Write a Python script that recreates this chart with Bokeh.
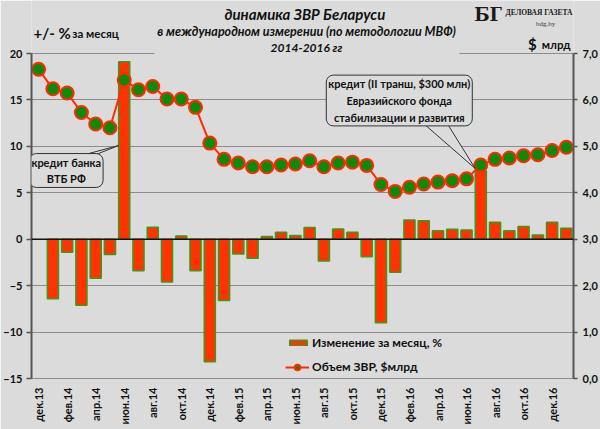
import math
from bokeh.plotting import figure
from bokeh.models import (ColumnDataSource, Range1d, LinearAxis, FixedTicker, Span, Label,
                          BoxAnnotation, Legend, LegendItem)
from bokeh.embed import file_html
from bokeh.resources import INLINE

NAN = float("nan")

# ---------------- data ----------------
months = ["дек.13", "янв.14", "фев.14", "мар.14", "апр.14", "май.14", "июн.14", "июл.14",
          "авг.14", "сен.14", "окт.14", "ноя.14", "дек.14", "янв.15", "фев.15", "мар.15",
          "апр.15", "май.15", "июн.15", "июл.15", "авг.15", "сен.15", "окт.15", "ноя.15",
          "дек.15", "янв.16", "фев.16", "мар.16", "апр.16", "май.16", "июн.16", "июл.16",
          "авг.16", "сен.16", "окт.16", "ноя.16", "дек.16", "янв.17"]
change_pct = [NAN, -6.4, -1.4, -7.1, -4.2, -1.65, 19.1, -3.4, 1.3, -4.6, 0.35, -3.4, -13.2,
              -6.6, -1.6, -2.05, 0.3, 0.75, 0.4, 1.25, -2.35, 1.1, 0.75, -1.9, -9.0, -3.55,
              2.08, 2.0, 0.9, 1.08, 1.0, 7.36, 1.83, 0.9, 1.36, 0.46, 1.83, 1.18]
reserves = [6.66, 6.24, 6.15, 5.73, 5.48, 5.40, 6.43, 6.22, 6.29, 6.02, 6.02, 5.84, 5.07,
            4.72, 4.64, 4.56, 4.56, 4.60, 4.62, 4.69, 4.56, 4.64, 4.66, 4.59, 4.18, 4.03,
            4.12, 4.19, 4.23, 4.26, 4.30, 4.60, 4.72, 4.75, 4.80, 4.82, 4.91, 4.98]
label_every = 2
left_ticks = [-15, -10, -5, 0, 5, 10, 15, 20]
right_ticks = [0, 1, 2, 3, 4, 5, 6, 7]
right_tick_labels = ["0,0", "1,0", "2,0", "3,0", "4,0", "5,0", "6,0", "7,0"]

title_lines = ["динамика  ЗВР Беларуси",
               "в международном измерении (по методологии МВФ)",
               "2014-2016 гг"]
left_unit = ["+/- %", "за месяц"]
right_unit = ["$", "млрд"]
callout_vtb = "кредит банка\nВТБ РФ"
callout_efsd = "кредит (II транш, $300 млн)\nЕвразийского фонда\nстабилизации и развития"
legend_labels = ["Изменение за месяц, %", "Объем ЗВР, $млрд"]
logo = ["БГ", "ДЕЛОВАЯ ГАЗЕТА", "bdg.by"]
vtb_idx = months.index("июн.14")
efsd_idx = months.index("июл.16")

# ---------------- style / layout ----------------
FONT = "Lato"
BG = "#DBDBDB"
GRID = "#8C8C8C"
AXIS = "#555555"
TXT = "#111111"
BAR_FILL = "#FF3300"
BAR_LINE = "#3A9A1E"
RED = "#FF2A00"
GREEN = "#0A8C0A"
W, H = 600, 429
BL, BR, BB = 27, 27, 51          # frame: x 27..573, bottom at 378
PLOT_TOP = 53                    # pixel row of the value 20 / 7,0
n = len(months)
PXC = (W - BL - BR) / n
PXU = (H - BB - PLOT_TOP) / 35.0
Y_TOP = 20 + PLOT_TOP / PXU      # frame reaches the top of the figure (header texts live there)
R_TOP = 7 + (Y_TOP - 20) / 5.0   # keep the right scale aligned with the left one


def dx(px):
    return (px - BL) / PXC - 0.5


def dy(py):
    return 20 - (py - PLOT_TOP) / PXU


p = figure(width=W, height=H, output_backend="svg", toolbar_location=None,
           x_range=Range1d(-0.5, n - 0.5), y_range=Range1d(-15, Y_TOP),
           min_border_left=BL, min_border_right=BR, min_border_top=0, min_border_bottom=BB,
           background_fill_color=BG, border_fill_color=BG, outline_line_color=None)
p.extra_y_ranges = {"right": Range1d(0, R_TOP)}

# grid
p.xgrid.grid_line_color = None
p.ygrid.ticker = FixedTicker(ticks=left_ticks)
p.ygrid.grid_line_color = GRID
p.ygrid.grid_line_width = 1


def style_axis(ax, standoff, tick_out):
    ax.axis_line_color = AXIS
    ax.axis_line_width = 2
    ax.major_tick_line_color = AXIS
    ax.major_tick_line_width = 1.5
    ax.major_tick_out = tick_out
    ax.major_tick_in = 0
    ax.minor_tick_line_color = None
    ax.major_label_standoff = standoff
    ax.major_label_text_font = FONT
    ax.major_label_text_font_style = "bold"
    ax.major_label_text_font_size = "11px"
    ax.major_label_text_color = TXT


# left axis
ya = p.yaxis[0]
ya.ticker = FixedTicker(ticks=left_ticks)
ya.bounds = (left_ticks[0], left_ticks[-1])
style_axis(ya, 4, 5)

# right axis
ra = LinearAxis(y_range_name="right", ticker=FixedTicker(ticks=right_ticks),
                major_label_overrides={t: l for t, l in zip(right_ticks, right_tick_labels)},
                bounds=(right_ticks[0], right_ticks[-1]))
style_axis(ra, 5, 4)
p.add_layout(ra, "right")

# x axis
xa = p.xaxis[0]
xticks = list(range(0, n, label_every))
xa.ticker = FixedTicker(ticks=xticks)
xa.major_label_overrides = {i: months[i] for i in xticks}
xa.major_label_orientation = math.pi / 2
style_axis(xa, 9, 0)
xa.axis_line_color = GRID
xa.axis_line_width = 1
xa.major_tick_line_color = None

# data
src = ColumnDataSource(dict(x=list(range(n)), chg=change_pct, res=reserves))
BAR_W = 0.78
bars = p.vbar(x="x", top="chg", bottom=0, width=BAR_W, source=src,
              fill_color=BAR_FILL, line_color=BAR_LINE, line_width=1.5)
p.add_layout(Span(location=0, dimension="width", line_color=TXT, line_width=1.5))
ln = p.line("x", "res", source=src, y_range_name="right", line_color=RED, line_width=2)
mk = p.scatter("x", "res", source=src, y_range_name="right", size=13,
               fill_color=GREEN, line_color=RED, line_width=2)

# gap in the top gridline behind the title
p.add_layout(BoxAnnotation(left=dx(151), right=dx(458), bottom=19.7, top=20.4,
                           fill_color=BG, fill_alpha=1, line_color=None))

# callout wedges
p.patch(x=[dx(66), vtb_idx - BAR_W / 2, dx(82)], y=[dy(158), dy(145), dy(158)],
        fill_color=BG, line_color="#333333", line_width=1)
p.patch(x=[dx(415), efsd_idx - BAR_W / 2, dx(442)],
        y=[dy(117), change_pct[efsd_idx] + 0.25, dy(117)],
        fill_color=BG, line_color="#333333", line_width=1)

for txt, cx, cy in [(callout_vtb, 62, 170), (callout_efsd, 397.5, 100)]:
    p.add_layout(Label(x=dx(cx), y=dy(cy), text=txt, text_align="center",
                       text_baseline="middle", text_font=FONT, text_font_style="bold",
                       text_font_size="11px", text_color=TXT, text_line_height=1.3,
                       background_fill_color=BG, border_line_color="#333333",
                       border_line_width=1, border_radius=7, padding=2))

# titles
for txt, py, fs in zip(title_lines, [13, 31, 47], ["15px", "12.5px", "12px"]):
    p.add_layout(Label(x=dx(304), y=dy(py), text=txt, text_align="center",
                       text_baseline="middle", text_font=FONT,
                       text_font_style="bold italic", text_font_size=fs, text_color=TXT))

p.add_layout(Label(x=dx(29), y=dy(32), text=left_unit[0], text_align="left",
                   text_baseline="middle", text_font=FONT, text_font_style="bold",
                   text_font_size="15px", text_color=TXT))
p.add_layout(Label(x=dx(68), y=dy(33), text=left_unit[1], text_align="left",
                   text_baseline="middle", text_font=FONT, text_font_style="bold",
                   text_font_size="11.5px", text_color=TXT))
p.add_layout(Label(x=dx(536), y=dy(43), text=right_unit[0], text_align="right",
                   text_baseline="middle", text_font=FONT, text_font_style="bold",
                   text_font_size="15px", text_color=TXT))
p.add_layout(Label(x=dx(570), y=dy(44), text=right_unit[1], text_align="right",
                   text_baseline="middle", text_font=FONT, text_font_style="bold",
                   text_font_size="11.5px", text_color=TXT))

# logo
p.add_layout(Label(x=dx(487), y=dy(14), text=logo[0], text_align="center",
                   text_baseline="middle", text_font="DejaVu Serif", text_font_style="bold",
                   text_font_size="18px", text_color="#1A1A1A"))
p.add_layout(Label(x=dx(572), y=dy(12), text=logo[1], text_align="right",
                   text_baseline="middle", text_font="Liberation Serif", text_font_style="bold",
                   text_font_size="7.5px", text_color="#1A1A1A"))
p.add_layout(Label(x=dx(545), y=dy(23), text=logo[2], text_align="center",
                   text_baseline="middle", text_font="Liberation Serif",
                   text_font_size="7px", text_color="#333333"))

# legends
common = dict(background_fill_alpha=0, border_line_color=None, padding=0, margin=0,
              label_text_font=FONT, label_text_font_style="bold",
              label_text_font_size="12px", label_text_color=TXT,
              label_standoff=3, spacing=0)
leg1 = Legend(items=[LegendItem(label=legend_labels[0], renderers=[bars])],
              location=(256, 28), glyph_width=22, glyph_height=7, label_height=7, **common)
leg2 = Legend(items=[LegendItem(label=legend_labels[1], renderers=[ln, mk])],
              location=(254, 4), glyph_width=24, glyph_height=14, label_height=14, **common)
p.add_layout(leg1)
p.add_layout(leg2)

open("out.html", "w").write(file_html(p, INLINE))
